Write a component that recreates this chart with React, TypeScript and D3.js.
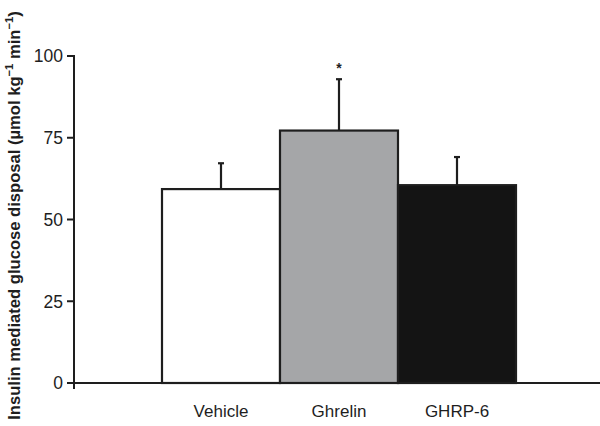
import React from "react";
import * as d3 from "d3";

const categories = ["Vehicle", "Ghrelin", "GHRP-6"];
const means = [59.3, 77.2, 60.5];
const errTops = [67.2, 92.9, 69.1];
const fills = ["#ffffff", "#a5a6a8", "#141414"];
const significant = [false, true, false];
const yTicks = [0, 25, 50, 75, 100];

export default function App() {
  const W = 600, H = 426;
  const y = d3.scaleLinear().domain([0, 100]).range([383, 56]);
  const x = d3.scaleBand().domain(categories).range([162, 516]).padding(0);
  const ink = "#1e1e1e";
  const font = "Liberation Sans, Arial, sans-serif";
  return (
    <svg width={W} height={H} style={{ position: "absolute", left: 0, top: 0 }}>
      <rect width={W} height={H} fill="#fff" />
      {categories.map((c, i) => {
        const x0 = x(c)!;
        const cx = x0 + x.bandwidth() / 2;
        return (
          <g key={c}>
            <line x1={cx} x2={cx} y1={y(means[i])} y2={y(errTops[i])} stroke={ink} strokeWidth={2.2} />
            <line x1={cx - 3} x2={cx + 3} y1={y(errTops[i])} y2={y(errTops[i])} stroke={ink} strokeWidth={2.2} />
            <rect x={x0} y={y(means[i])} width={x.bandwidth()} height={y(0) - y(means[i])} fill={fills[i]} stroke={ink} strokeWidth={2.2} />
            {significant[i] && (
              <text x={cx} y={y(errTops[i]) - 6} textAnchor="middle" fontFamily={font} fontSize={14} fontWeight="bold" fill={ink}>*</text>
            )}
            <text x={cx} y={416.5} textAnchor="middle" fontFamily={font} fontSize={17} fill={ink}>{c}</text>
          </g>
        );
      })}
      <line x1={74} x2={74} y1={y(100) - 1} y2={y(0) + 6} stroke={ink} strokeWidth={2} />
      <line x1={74} x2={600} y1={y(0)} y2={y(0)} stroke={ink} strokeWidth={2.2} />
      {yTicks.map(t => (
        <g key={t}>
          <line x1={67} x2={74} y1={y(t)} y2={y(t)} stroke={ink} strokeWidth={2} />
          <text x={63} y={y(t) + 6.3} textAnchor="end" fontFamily={font} fontSize={17.5} fill={ink}>{t}</text>
        </g>
      ))}
      <text transform="translate(19.5,215.5) rotate(-90)" textAnchor="middle" fontFamily={font} fontSize={16.6} fontWeight="bold" fill={ink}>
        Insulin mediated glucose disposal (µmol kg<tspan dy={-6.5} fontSize={11.2}>−1</tspan><tspan dy={6.5}> min</tspan><tspan dy={-6.5} fontSize={11.2}>−1</tspan><tspan dy={6.5}>)</tspan>
      </text>
    </svg>
  );
}
